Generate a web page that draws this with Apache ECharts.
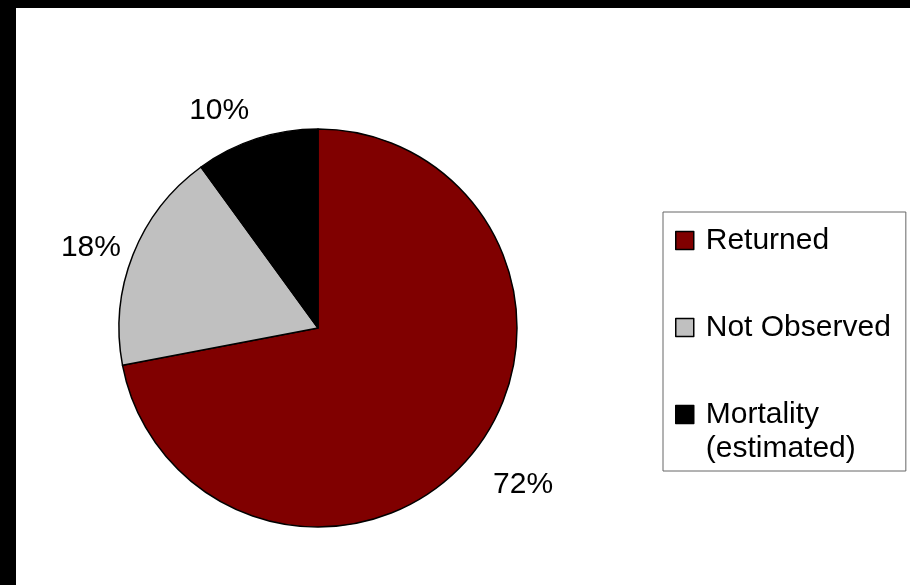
<!DOCTYPE html>
<html>
<head>
<meta charset="utf-8">
<script src="https://cdn.jsdelivr.net/npm/echarts@6/dist/echarts.min.js"></script>
<style>
  html, body { margin: 0; padding: 0; background: #fff; overflow: hidden; }
  .bar { position: fixed; left: 0; top: 0; background: #000; z-index: 2; }
  #barTop { width: 100%; height: 8px; }
  #barLeft { width: 16px; height: 100%; }
  #chart { position: absolute; left: 16px; top: 8px; width: 894px; height: 577px; background: #fff; }
</style>
</head>
<body>
<div id="barTop" class="bar"></div>
<div id="barLeft" class="bar"></div>
<div id="chart"></div>
<script>
// Outcome categories and their shares (%)
const categories = ['Returned', 'Not Observed', 'Mortality (estimated)'];
const shares = [72, 18, 10];
const sliceColors = ['#800000', '#C0C0C0', '#000000'];

// Small nudges for the outside percentage labels, per slice [dx, dy]
const labelNudge = [[6, 21], [6, -2], [2, -15]];

const FONT = '"Liberation Sans", Arial, sans-serif';
const FS = 30;
const LINE_H = 33;

const chart = echarts.init(document.getElementById('chart'), null, { renderer: 'canvas' });

const option = {
  animation: false,
  backgroundColor: '#fff',
  legend: {
    orient: 'vertical',
    left: 647,
    top: 204,
    padding: [12, 15, 7, 12],
    itemGap: 54,
    itemWidth: 18,
    itemHeight: 18,
    icon: 'rect',
    borderColor: '#666',
    borderWidth: 1,
    itemStyle: { borderColor: '#000', borderWidth: 1.5 },
    textStyle: {
      fontFamily: FONT, fontSize: FS, color: '#000',
      lineHeight: LINE_H, padding: [0, 0, 0, 7],
      rich: {
        first: { fontFamily: FONT, fontSize: FS, color: '#000', lineHeight: LINE_H },
        second: { fontFamily: FONT, fontSize: FS, color: '#000', lineHeight: 0, verticalAlign: 'top', padding: [3, 0, 0, 0] }
      }
    },
    // A two-part name keeps its marker beside the first line
    formatter: name => {
      const i = name.indexOf(' (');
      return i < 0 ? name : '{first|' + name.slice(0, i) + '}\n{second|' + name.slice(i + 1) + '}';
    },
    data: categories
  },
  series: [{
    type: 'pie',
    center: [302, 320],
    radius: 199,
    startAngle: 90,
    clockwise: true,
    itemStyle: { borderColor: '#000', borderWidth: 1.5 },
    label: {
      show: true,
      position: 'outside',
      formatter: '{c}%',
      fontFamily: FONT,
      fontSize: FS,
      color: '#000'
    },
    labelLine: { show: false, length: 14, length2: 0 },
    labelLayout: p => ({ dx: labelNudge[p.dataIndex][0], dy: labelNudge[p.dataIndex][1] }),
    emphasis: { disabled: true },
    data: categories.map((name, i) => ({
      name, value: shares[i], itemStyle: { color: sliceColors[i] }
    }))
  }]
};

chart.setOption(option);
</script>
</body>
</html>
